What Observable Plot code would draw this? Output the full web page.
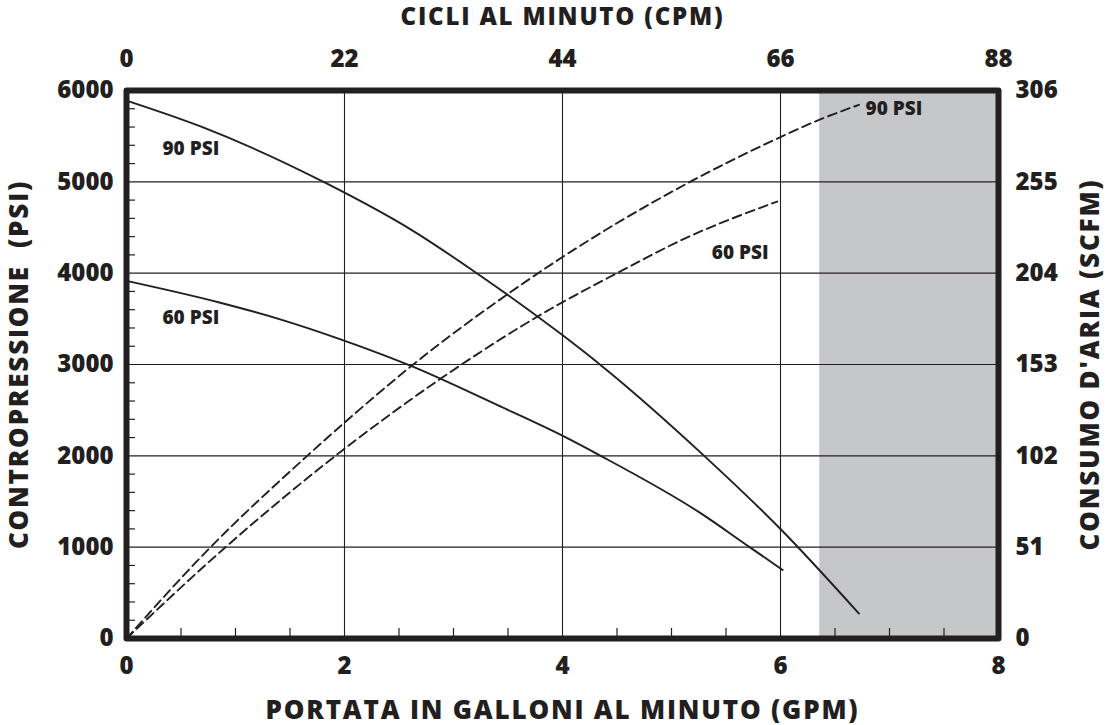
<!DOCTYPE html>
<html>
<head>
<meta charset="utf-8">
<script src="https://cdn.jsdelivr.net/npm/d3@7"></script>
<script src="https://cdn.jsdelivr.net/npm/@observablehq/plot@0.6"></script>
<style>
  html, body { margin: 0; padding: 0; background: #ffffff; }
  #chart { width: 1107px; height: 725px; }
  #chart g[aria-label="x-axis label"] text,
  #chart g[aria-label="y-axis label"] text { letter-spacing: 1.8px; }
</style>
</head>
<body>
<div id="chart"></div>
<script>
// ---- Tick values and labels ----
const gpmTicks = [0, 2, 4, 6, 8];
const cpmTickLabels = [0, 22, 44, 66, 88];
const psiTicks = [0, 1000, 2000, 3000, 4000, 5000, 6000];
const scfmTickLabels = [0, 51, 102, 153, 204, 255, 306];
const gpmMinorTicks = [0.5, 1, 1.5, 2.5, 3, 3.5, 4.5, 5, 5.5, 6.5, 7, 7.5];
const psiMinorTicks = [200, 400, 600, 800, 1200, 1400, 1600, 1800, 2200, 2400, 2600, 2800,
  3200, 3400, 3600, 3800, 4200, 4400, 4600, 4800, 5200, 5400, 5600, 5800];
const gridGpm = [2, 4, 6];
const gridPsi = [1000, 2000, 3000, 4000, 5000];

// ---- Back pressure curves (PSI vs GPM) ----
const gpm90 = [0, 0.68, 1.84, 2.61, 3.23, 3.99, 4.36, 5.3, 6.0, 6.72];
const psi90 = [5890, 5607, 4980, 4477, 3986, 3330, 2984, 2000, 1199, 273];
const gpm60 = [0, 0.86, 1.41, 1.99, 2.61, 3.4, 3.99, 4.35, 5.27, 5.72, 6.02];
const psi60 = [3915, 3676, 3494, 3264, 2984, 2557, 2226, 2000, 1370, 998, 751];

// ---- Air consumption curves (SCFM vs GPM) ----
const airGpm90 = [0, 0.755, 1.64, 1.99, 2.61, 3.49, 4.0, 5.14, 6.0, 6.37, 6.72];
const airScfm90 = [0, 50, 101, 120, 152, 192, 213, 254, 280, 290, 298];
const airGpm60 = [0, 0.89, 1.98, 2.88, 3.89, 4.5, 5.11, 5.97];
const airScfm60 = [0, 50, 105, 145, 184, 204, 223, 244];

// ---- Shaded region (GPM) ----
const shadeFrom = [6.36];
const shadeTo = [8];

const psiMax = 6000, scfmMax = 306;
const ink = "#231f20";

const pts = (xs, ys) => xs.map((x, i) => ({x, y: ys[i]}));
const airPts = (xs, ys) => xs.map((x, i) => ({x, y: ys[i] * psiMax / scfmMax}));

const labels = [
  {x: 0.33, y: 5360, t: "90 PSI"},
  {x: 0.33, y: 3510, t: "60 PSI"},
  {x: 6.78, y: 5800, t: "90 PSI"},
  {x: 5.37, y: 4220, t: "60 PSI"}
];

const font = "'Open Sans', 'Noto Sans', sans-serif";
const tickFont = 24, titleFont = 26, topTitleFont = 24;

const chart = Plot.plot({
  width: 1107,
  height: 725,
  marginLeft: 126,
  marginRight: 109,
  marginTop: 90,
  marginBottom: 87,
  style: {fontFamily: font, fontWeight: 800, color: ink, background: "#ffffff", overflow: "visible"},
  x: {domain: [0, 8]},
  y: {domain: [0, psiMax]},
  marks: [
    Plot.rectY(shadeFrom.map((f, i) => ({f, t: shadeTo[i]})), {x1: "f", x2: "t", y1: 0, y2: psiMax, fill: "#c6c7c9"}),
    Plot.ruleX(gridGpm, {stroke: ink, strokeWidth: 1.1}),
    Plot.ruleY(gridPsi, {stroke: ink, strokeWidth: 1.1}),
    // minor ticks (inward)
    Plot.axisX(gpmMinorTicks, {anchor: "bottom", tickSize: -10, tickFormat: () => "", label: null, stroke: ink, strokeWidth: 1.2}),
    Plot.axisY(psiMinorTicks, {anchor: "left", tickSize: -9, tickFormat: () => "", label: null, stroke: ink, strokeWidth: 1.2}),
    // curves
    Plot.line(pts(gpm90, psi90), {x: "x", y: "y", curve: "monotone-x", stroke: ink, strokeWidth: 1.9}),
    Plot.line(pts(gpm60, psi60), {x: "x", y: "y", curve: "monotone-x", stroke: ink, strokeWidth: 1.9}),
    Plot.line(airPts(airGpm90, airScfm90), {x: "x", y: "y", curve: "monotone-x", stroke: ink, strokeWidth: 1.9, strokeDasharray: "9,5"}),
    Plot.line(airPts(airGpm60, airScfm60), {x: "x", y: "y", curve: "monotone-x", stroke: ink, strokeWidth: 1.9, strokeDasharray: "9,5"}),
    Plot.text(labels, {x: "x", y: "y", text: "t", textAnchor: "start", fontSize: 19, fontWeight: 800, fill: ink}),
    Plot.frame({stroke: ink, strokeWidth: 6, strokeLinejoin: "round"}),
    // axes
    Plot.axisX(gpmTicks, {anchor: "bottom", tickSize: 0, tickPadding: 18, fontSize: tickFont,
      label: null}),
    Plot.axisX(gpmTicks, {anchor: "bottom", tickSize: 0, tickFormat: () => "", fontSize: titleFont,
      label: "PORTATA IN GALLONI AL MINUTO (GPM)", labelAnchor: "center", labelOffset: 80, labelArrow: "none"}),
    Plot.axisX(gpmTicks, {anchor: "top", tickSize: 0, tickPadding: 24, fontSize: tickFont,
      tickFormat: d => cpmTickLabels[gpmTicks.indexOf(d)], label: null}),
    Plot.axisX(gpmTicks, {anchor: "top", tickSize: 0, tickFormat: () => "", fontSize: topTitleFont,
      label: "CICLI AL MINUTO (CPM)", labelAnchor: "center", labelOffset: 83, labelArrow: "none"}),
    Plot.axisY(psiTicks, {anchor: "left", tickSize: 0, tickPadding: 13, fontSize: tickFont,
      tickFormat: d => String(d), label: null}),
    Plot.axisY(psiTicks, {anchor: "left", tickSize: 0, tickFormat: () => "", fontSize: titleFont,
      label: "CONTROPRESSIONE\u00a0 (PSI)", labelAnchor: "center", labelOffset: 117, labelArrow: "none"}),
    Plot.axisY(psiTicks, {anchor: "right", tickSize: 0, tickPadding: 17, fontSize: tickFont,
      tickFormat: d => scfmTickLabels[psiTicks.indexOf(d)], label: null}),
    Plot.axisY(psiTicks, {anchor: "right", tickSize: 0, tickFormat: () => "", fontSize: titleFont,
      label: "CONSUMO D'ARIA (SCFM)", labelAnchor: "center", labelOffset: 100, labelArrow: "none"})
  ]
});
document.getElementById("chart").appendChild(chart);
</script>
</body>
</html>
